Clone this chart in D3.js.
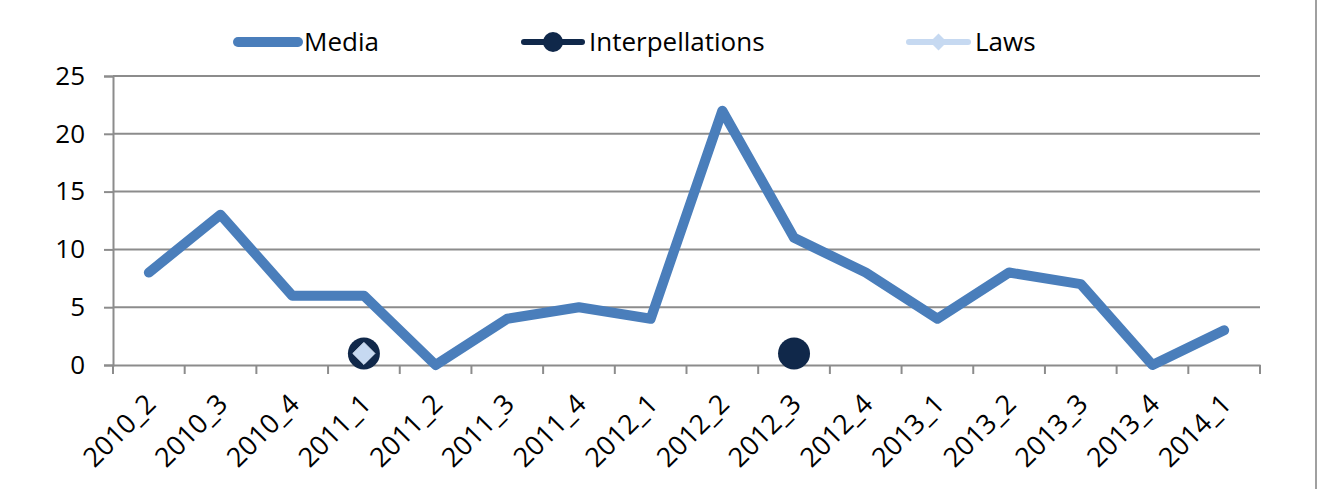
<!DOCTYPE html>
<html><head><meta charset="utf-8">
<script src="https://cdn.jsdelivr.net/npm/d3@7"></script>
<style>
html,body{margin:0;padding:0;background:#fff;}
text{font-family:"Open Sans",sans-serif;fill:#000;}
</style></head>
<body>
<svg id="chart" width="1322" height="489"></svg>
<script>
const categories = ["2010_2","2010_3","2010_4","2011_1","2011_2","2011_3","2011_4","2012_1","2012_2","2012_3","2012_4","2013_1","2013_2","2013_3","2013_4","2014_1"];
const media = [8,13,6,6,0,4,5,4,22,11,8,4,8,7,0,3];
const interpellations = [null,null,null,1,null,null,null,null,null,1,null,null,null,null,null,null];
const laws = [null,null,null,1,null,null,null,null,null,null,null,null,null,null,null,null];
const yTicks = [0,5,10,15,20,25];
const seriesNames = ["Media","Interpellations","Laws"];

(function(){
const svg = d3.select("#chart");
const mL = 113, mR = 1260, mT = 76, mB = 365;
const x = d3.scaleBand().domain(categories).range([mL, mR]).padding(0);
const y = d3.scaleLinear().domain([0,25]).range([mB, mT]);
const cx = c => x(c) + x.bandwidth()/2;

const mediaColor = "#4a7ebb", interColor = "#10284a", lawsColor = "#c6d9f1";
const gridColor = "#8c8c8c";

// right border
svg.append("line").attr("x1",1316).attr("x2",1316).attr("y1",0).attr("y2",489)
  .attr("stroke","#a0a0a0").attr("stroke-width",2);

// gridlines + y axis
const yAxis = d3.axisLeft(y).tickValues(yTicks).tickSize(9).tickPadding(19);
const gy = svg.append("g").attr("transform",`translate(${mL},0)`).call(yAxis);
gy.select(".domain").attr("stroke",gridColor).attr("stroke-width",2);
gy.selectAll(".tick line").attr("stroke",gridColor).attr("stroke-width",2);
gy.selectAll(".tick text").style("font-size","26px").attr("fill","#000");
svg.append("g").selectAll("line").data(yTicks.filter(d=>d>0)).join("line")
  .attr("x1",mL).attr("x2",mR).attr("y1",d=>y(d)).attr("y2",d=>y(d))
  .attr("stroke",gridColor).attr("stroke-width",2);

// x axis
const xAxis = d3.axisBottom(x).tickSize(0).tickPadding(0);
const gx = svg.append("g").attr("transform",`translate(0,${mB})`).call(xAxis);
gx.select(".domain").attr("stroke",gridColor).attr("stroke-width",2);
gx.selectAll(".tick text").style("font-size","27px").attr("fill","#000")
  .attr("text-anchor","end").attr("dy","0.35em")
  .attr("transform","translate(2,34) rotate(-45)");
const bounds = categories.map(c => x(c)).concat([mR]);
svg.append("g").selectAll("line").data(bounds).join("line")
  .attr("x1",d=>d).attr("x2",d=>d).attr("y1",mB).attr("y2",mB+9)
  .attr("stroke",gridColor).attr("stroke-width",2);

// media line
const line = d3.line().defined(d=>d[1]!=null).x(d=>cx(d[0])).y(d=>y(d[1]));
svg.append("path").datum(categories.map((c,i)=>[c,media[i]]))
  .attr("d",line).attr("fill","none").attr("stroke",mediaColor)
  .attr("stroke-width",10).attr("stroke-linejoin","round").attr("stroke-linecap","round");

// interpellations markers
svg.append("g").selectAll("circle")
  .data(categories.map((c,i)=>[c,interpellations[i]]).filter(d=>d[1]!=null))
  .join("circle").attr("cx",d=>cx(d[0])).attr("cy",d=>y(d[1])).attr("r",16)
  .attr("fill",interColor);

// laws markers
const diamond = d3.symbol().type(d3.symbolDiamond2).size(310);
svg.append("g").selectAll("path")
  .data(categories.map((c,i)=>[c,laws[i]]).filter(d=>d[1]!=null))
  .join("path").attr("d",diamond)
  .attr("transform",d=>`translate(${cx(d[0])},${y(d[1])})`)
  .attr("fill",lawsColor).attr("stroke","#dce7f5").attr("stroke-width",1);

// legend
const leg = svg.append("g");
const ly = 42;
const legItems = [
  {name:seriesNames[0], x1:238, x2:298, tx:304},
  {name:seriesNames[1], x1:524, x2:582, tx:589},
  {name:seriesNames[2], x1:909, x2:968, tx:975}
];
leg.append("line").attr("x1",legItems[0].x1).attr("x2",legItems[0].x2).attr("y1",ly).attr("y2",ly)
  .attr("stroke",mediaColor).attr("stroke-width",10).attr("stroke-linecap","round");
leg.append("line").attr("x1",legItems[1].x1).attr("x2",legItems[1].x2).attr("y1",ly).attr("y2",ly)
  .attr("stroke",interColor).attr("stroke-width",6).attr("stroke-linecap","round");
leg.append("circle").attr("cx",(legItems[1].x1+legItems[1].x2)/2).attr("cy",ly).attr("r",10).attr("fill",interColor);
leg.append("line").attr("x1",legItems[2].x1).attr("x2",legItems[2].x2).attr("y1",ly).attr("y2",ly)
  .attr("stroke",lawsColor).attr("stroke-width",6).attr("stroke-linecap","round");
leg.append("path").attr("d",d3.symbol().type(d3.symbolDiamond2).size(185))
  .attr("transform",`translate(${(legItems[2].x1+legItems[2].x2)/2},${ly})`).attr("fill",lawsColor);
leg.selectAll("text").data(legItems).join("text")
  .attr("x",d=>d.tx).attr("y",ly).attr("dy","0.35em").style("font-size","26px").text(d=>d.name);
})();
</script>
</body></html>
